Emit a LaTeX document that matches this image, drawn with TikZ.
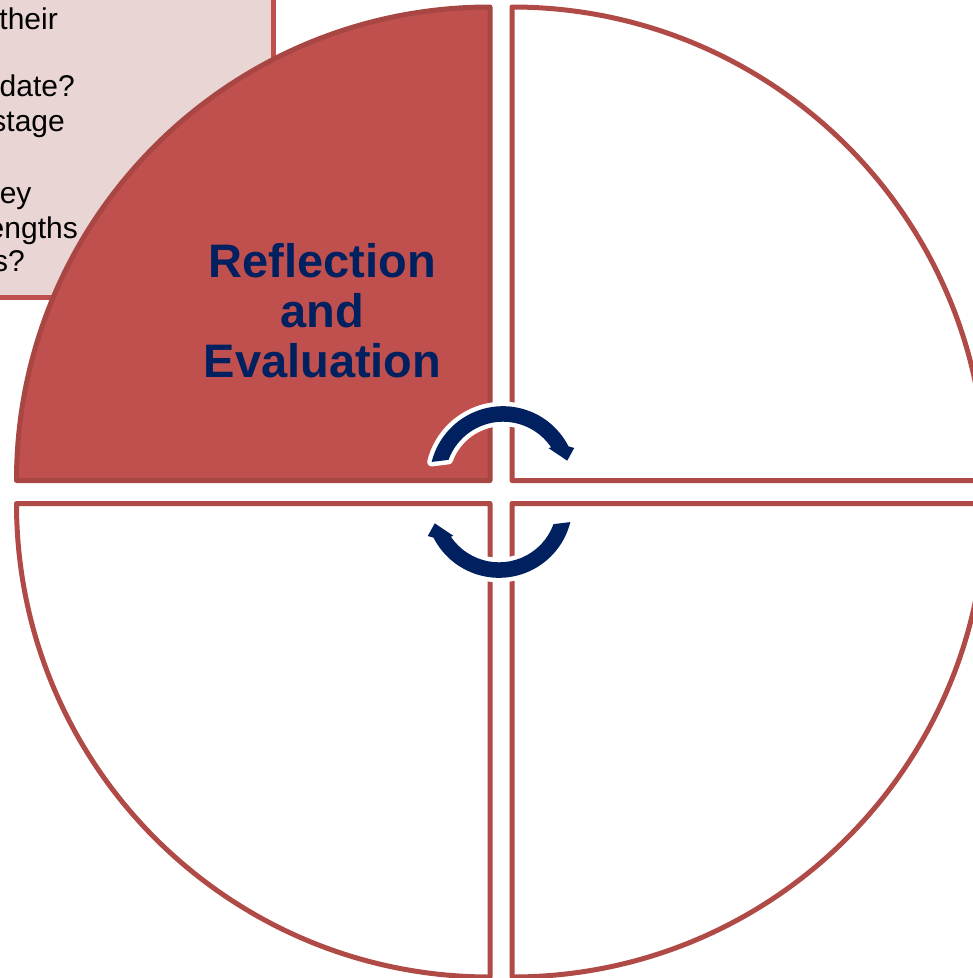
\documentclass[tikz,border=0pt]{standalone}
\usepackage{fontspec}
\setmainfont{Liberation Sans}
\definecolor{cyclered}{HTML}{C0504D}
\definecolor{cycleline}{HTML}{B04A47}
\definecolor{notepink}{HTML}{EAD5D5}
\definecolor{cyclenavy}{HTML}{002060}

\begin{document}
\begin{tikzpicture}[x=1pt, y=-1pt,
	quarter/.style={draw=cycleline, line width=5pt, line join=round, fill=white},
	note/.style={anchor=base east, inner sep=0pt, font=\fontsize{30}{34}\selectfont},
	title/.style={inner sep=0pt, align=center, text=cyclenavy, font=\bfseries\fontsize{47}{50}\selectfont},
	turn/.style={fill=cyclenavy, preaction={draw=white, line width=9pt, line join=round}}]
	\useasboundingbox (0, 0) rectangle (973, 978);
	\clip (0, 0) rectangle (973, 978);
	\draw [draw=cyclered, line width=5pt, fill=notepink] (-20, -20) rectangle (273.3, 297.5);
	\node [note] (n1) at (58, 29.3) {their};
	\node [note] (n2) at (75, 96) {date?};
	\node [note] (n3) at (65, 131.7) {stage};
	\node [note] (n4) at (31.7, 203) {ey};
	\node [note] (n5) at (78, 238) {engths};
	\node [note] (n6) at (25, 271.7) {s?};
	\foreach \cx/\cy/\a in {512/480.5/270, 512/503.5/0, 490/503.5/90}
		\draw [quarter] (\cx, \cy) -- ++(\a:473.5) arc [start angle=\a, end angle=\a+90, radius=473.5] -- cycle;
	\draw [quarter, fill=cyclered, draw=cycleline!95!black] (490, 480.5) -- ++(180:473.5) arc [start angle=180, end angle=270, radius=473.5] -- cycle;
	\node [title] (stage) at (322.5, 311) {Reflection\\and\\Evaluation};
	\foreach \ox/\oy/\rot in {503/479.7/0, 499/504.3/180}
		\path [turn, shift={(\ox, \oy)}, rotate=\rot] (-166:73.5) arc [start angle=-166, end angle=-27, radius=73.5] -- (-24:78) -- (-16.5:67) -- (-34.5:55.5) -- (-34:58) arc [start angle=-34, end angle=-160, radius=58] -- cycle;
\end{tikzpicture}
\end{document}
